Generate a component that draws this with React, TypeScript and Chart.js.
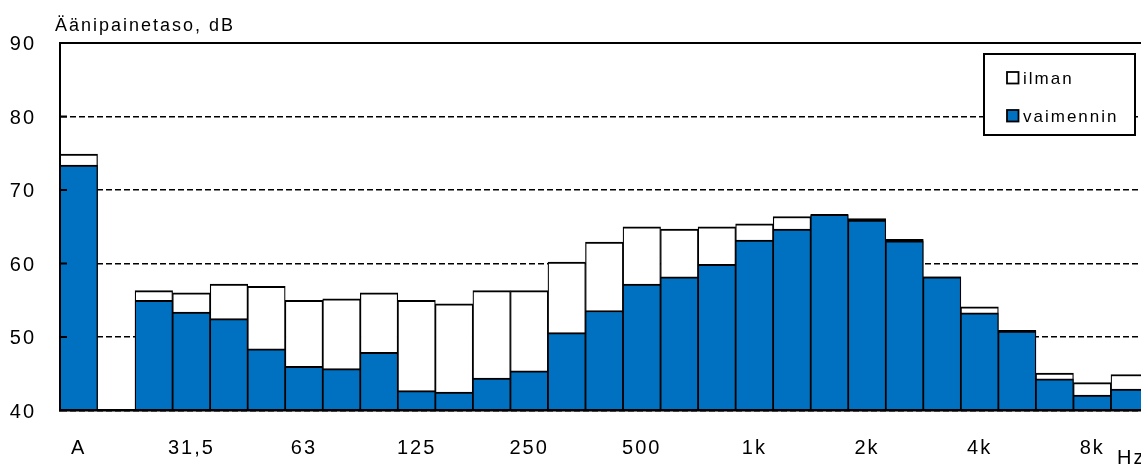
import { useEffect, useRef } from 'react';
import { Chart, registerables } from 'chart.js';

Chart.register(...registerables);

// Band slots: slot 0 is the A-weighted total, slot 1 is left empty,
// slots 2..28 are the third-octave bands 25 Hz .. 10 kHz.
const tickSlots = [0, 3, 6, 9, 12, 15, 18, 21, 24, 27];
const tickLabels = ['A', '31,5', '63', '125', '250', '500', '1k', '2k', '4k', '8k'];

const ilman: (number | null)[] = [
  74.9, null, 56.3, 56.0, 57.2, 56.9, 55.0, 55.2, 56.0, 55.0, 54.5, 56.3, 56.3, 60.2, 62.9,
  65.0, 64.7, 65.0, 65.4, 66.4, 66.6, 66.1, 63.3, 58.2, 54.1, 50.9, 45.1, 43.8, 44.9,
];
const vaimennin: (number | null)[] = [
  73.4, null, 55.0, 53.4, 52.5, 48.4, 46.0, 45.7, 47.9, 42.7, 42.5, 44.4, 45.4, 50.6, 53.6,
  57.2, 58.2, 59.9, 63.2, 64.7, 66.7, 65.9, 63.1, 58.2, 53.3, 50.8, 44.3, 42.1, 42.9,
];

const seriesNames = ['ilman', 'vaimennin'];
const yTitle = 'Äänipainetaso, dB';
const xUnit = 'Hz';

const FONT = "'Liberation Sans', Arial, sans-serif";
const BLUE = '#0070C0';
const SPACING = '2px';

const decor = {
  id: 'decor',
  beforeUpdate(chart: any) {
    chart.ctx.letterSpacing = SPACING;
  },
  beforeDraw(chart: any) {
    chart.ctx.letterSpacing = SPACING;
  },
  afterDatasetsDraw(chart: any) {
    const { ctx, chartArea, scales } = chart;
    const y = scales.y;
    ctx.save();
    ctx.strokeStyle = '#000';
    // inward tick marks
    ctx.lineWidth = 2;
    [50, 60, 70, 80].forEach((v) => {
      const py = y.getPixelForValue(v);
      ctx.beginPath();
      ctx.moveTo(chartArea.left, py);
      ctx.lineTo(chartArea.left + 7, py);
      ctx.stroke();
    });
    // solid frame line on top
    const top = y.getPixelForValue(90);
    ctx.beginPath();
    ctx.moveTo(chartArea.left, top);
    ctx.lineTo(chartArea.right, top);
    ctx.stroke();
    ctx.restore();
  },
  afterDraw(chart: any) {
    const { ctx } = chart;
    ctx.save();
    ctx.fillStyle = '#000';
    ctx.textAlign = 'left';
    ctx.textBaseline = 'alphabetic';

    ctx.font = `18px ${FONT}`;
    ctx.fillText(yTitle, 55, 30.5);

    ctx.font = `20px ${FONT}`;
    ctx.fillText(xUnit, 1117, 463.5);

    // legend box
    const bx = 984, by = 54, bw = 151, bh = 81;
    ctx.fillStyle = '#fff';
    ctx.fillRect(bx, by, bw, bh);
    ctx.strokeStyle = '#000';
    ctx.lineWidth = 2;
    ctx.strokeRect(bx, by, bw, bh);

    const rows = [83.5, 121.5];
    ctx.font = `17px ${FONT}`;
    chart.data.datasets.forEach((ds: any, i: number) => {
      const base = rows[i];
      ctx.fillStyle = ds.backgroundColor;
      ctx.fillRect(1007, base - 11.5, 11.5, 11.5);
      ctx.lineWidth = 1.8;
      ctx.strokeStyle = '#000';
      ctx.strokeRect(1007, base - 11.5, 11.5, 11.5);
      ctx.fillStyle = '#000';
      ctx.fillText(ds.label, 1023, base);
    });
    ctx.restore();
  },
};

export default function App() {
  const canvasRef = useRef<HTMLCanvasElement | null>(null);

  useEffect(() => {
    document.body.style.margin = '0';
    const canvas = canvasRef.current;
    if (!canvas) return;

    const toPoints = (arr: (number | null)[]) => arr.map((v, i) => ({ x: i, y: v }));
    const barBorder = { top: 2, left: 1.25, right: 1.25, bottom: 0 };

    const chart = new Chart(canvas, {
      type: 'bar',
      data: {
        datasets: [
          {
            label: seriesNames[0],
            data: toPoints(ilman) as any,
            backgroundColor: '#ffffff',
            borderColor: '#000000',
            borderWidth: barBorder as any,
            grouped: false,
            order: 2,
            barPercentage: 1,
            categoryPercentage: 1,
          },
          {
            label: seriesNames[1],
            data: toPoints(vaimennin) as any,
            backgroundColor: BLUE,
            borderColor: '#000000',
            borderWidth: barBorder as any,
            grouped: false,
            order: 1,
            barPercentage: 1,
            categoryPercentage: 1,
          },
        ],
      },
      options: {
        responsive: false,
        animation: false,
        devicePixelRatio: 1,
        layout: { padding: { top: 43, right: 0, bottom: 0, left: 0 } },
        plugins: {
          legend: { display: false },
          tooltip: { enabled: false },
        },
        scales: {
          x: {
            type: 'linear',
            min: -0.5,
            max: 28.3,
            offset: false,
            grid: { display: false, drawTicks: false },
            border: { display: true, color: '#000', width: 2.5, z: 1 },
            afterBuildTicks: (scale: any) => {
              scale.ticks = tickSlots.map((v) => ({ value: v }));
            },
            afterFit: (scale: any) => {
              scale.height = 53.5;
            },
            ticks: {
              autoSkip: false,
              maxRotation: 0,
              padding: 25.5,
              color: '#000',
              font: { family: FONT, size: 20 },
              callback: (value: any) => {
                const idx = tickSlots.indexOf(Number(value));
                return idx >= 0 ? tickLabels[idx] : '';
              },
            },
          },
          y: {
            type: 'linear',
            min: 40,
            max: 90,
            beginAtZero: false,
            grid: { color: '#000', lineWidth: 1.5, drawTicks: false },
            border: { display: true, color: '#000', width: 2, dash: [6, 3], z: 1 },
            afterFit: (scale: any) => {
              scale.width = 60;
            },
            ticks: {
              stepSize: 10,
              padding: 24,
              labelOffset: 1.5,
              color: '#000',
              font: { family: FONT, size: 20 },
            },
          },
        },
      } as any,
      plugins: [decor],
    });

    return () => chart.destroy();
  }, []);

  return (
    <div style={{ width: 1141, height: 464, overflow: 'hidden' }}>
      <canvas ref={canvasRef} width={1141} height={464} style={{ display: 'block' }} />
    </div>
  );
}
